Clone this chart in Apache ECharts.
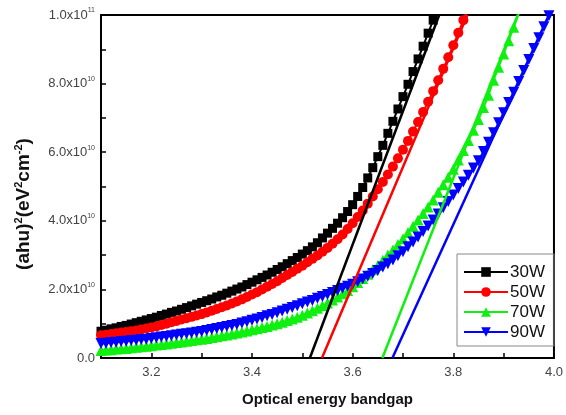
<!DOCTYPE html>
<html>
<head>
<meta charset="utf-8">
<script src="https://cdn.jsdelivr.net/npm/echarts@6/dist/echarts.min.js"></script>
<style>
  html, body { margin: 0; padding: 0; background: #fff; }
  #chart { width: 566px; height: 415px; }
</style>
</head>
<body>
<div id="chart"></div>
<script>
// photon energy (eV), shared x for all four curves
const energy = [
  3.10, 3.11, 3.12, 3.13, 3.14, 3.15, 3.16, 3.17, 3.18, 3.19,
  3.20, 3.21, 3.22, 3.23, 3.24, 3.25, 3.26, 3.27, 3.28, 3.29,
  3.30, 3.31, 3.32, 3.33, 3.34, 3.35, 3.36, 3.37, 3.38, 3.39,
  3.40, 3.41, 3.42, 3.43, 3.44, 3.45, 3.46, 3.47, 3.48, 3.49,
  3.50, 3.51, 3.52, 3.53, 3.54, 3.55, 3.56, 3.57, 3.58, 3.59,
  3.60, 3.61, 3.62, 3.63, 3.64, 3.65, 3.66, 3.67, 3.68, 3.69,
  3.70, 3.71, 3.72, 3.73, 3.74, 3.75, 3.76, 3.77, 3.78, 3.79,
  3.80, 3.81, 3.82, 3.83, 3.84, 3.85, 3.86, 3.87, 3.88, 3.89,
  3.90, 3.91, 3.92, 3.93, 3.94, 3.95, 3.96, 3.97, 3.98, 3.99,
  4.00
];

// (ahv)^2 in units of 1e10 eV^2 cm^-2
const w30 = [
  0.78, 0.81, 0.85, 0.88, 0.92, 0.95, 0.99, 1.03, 1.07, 1.11,
  1.15, 1.19, 1.24, 1.28, 1.33, 1.37, 1.42, 1.47, 1.52, 1.57,
  1.62, 1.67, 1.72, 1.78, 1.83, 1.89, 1.95, 2.01, 2.07, 2.14,
  2.21, 2.28, 2.35, 2.42, 2.50, 2.58, 2.66, 2.75, 2.84, 2.93,
  3.03, 3.13, 3.24, 3.36, 3.50, 3.64, 3.78, 3.93, 4.09, 4.27,
  4.47, 4.71, 4.97, 5.25, 5.55, 5.87, 6.20, 6.55, 6.90, 7.26,
  7.62, 7.98, 8.35, 8.72, 9.09, 9.47, 9.85, 10.23
];
const w50 = [
  0.66, 0.68, 0.70, 0.72, 0.74, 0.76, 0.78, 0.80, 0.83, 0.86,
  0.89, 0.92, 0.96, 1.00, 1.04, 1.08, 1.12, 1.16, 1.20, 1.24,
  1.28, 1.33, 1.38, 1.43, 1.48, 1.53, 1.59, 1.65, 1.71, 1.78,
  1.85, 1.92, 2.00, 2.08, 2.16, 2.24, 2.33, 2.42, 2.51, 2.60,
  2.69, 2.79, 2.89, 2.99, 3.10, 3.21, 3.33, 3.46, 3.60, 3.76,
  3.93, 4.11, 4.30, 4.50, 4.71, 4.92, 5.13, 5.35, 5.58, 5.82,
  6.07, 6.33, 6.60, 6.88, 7.17, 7.47, 7.78, 8.10, 8.43, 8.77,
  9.12, 9.48, 9.85, 10.22
];
const w70 = [
  0.22, 0.23, 0.24, 0.26, 0.27, 0.28, 0.30, 0.31, 0.33, 0.34,
  0.36, 0.38, 0.39, 0.41, 0.43, 0.45, 0.47, 0.49, 0.51, 0.53,
  0.55, 0.57, 0.60, 0.62, 0.65, 0.67, 0.70, 0.73, 0.76, 0.79,
  0.82, 0.85, 0.89, 0.92, 0.96, 1.00, 1.04, 1.09, 1.14, 1.19,
  1.25, 1.31, 1.38, 1.45, 1.52, 1.60, 1.69, 1.78, 1.87, 1.97,
  2.08, 2.20, 2.32, 2.44, 2.57, 2.70, 2.85, 3.00, 3.15, 3.31,
  3.48, 3.66, 3.84, 4.02, 4.21, 4.40, 4.61, 4.83, 5.05, 5.27,
  5.50, 5.77, 6.05, 6.34, 6.64, 6.95, 7.30, 7.66, 8.10, 8.48,
  8.86, 9.25, 9.64, 10.04
];
const w90 = [
  0.42, 0.43, 0.45, 0.46, 0.48, 0.49, 0.51, 0.52, 0.54, 0.55,
  0.57, 0.59, 0.61, 0.63, 0.65, 0.67, 0.69, 0.71, 0.73, 0.75,
  0.77, 0.80, 0.83, 0.86, 0.89, 0.92, 0.95, 0.98, 1.02, 1.06,
  1.10, 1.14, 1.18, 1.23, 1.27, 1.32, 1.37, 1.42, 1.47, 1.52,
  1.58, 1.63, 1.68, 1.74, 1.79, 1.85, 1.91, 1.97, 2.03, 2.09,
  2.15, 2.22, 2.30, 2.38, 2.46, 2.55, 2.65, 2.75, 2.86, 2.98,
  3.10, 3.24, 3.38, 3.53, 3.69, 3.85, 4.02, 4.20, 4.38, 4.56,
  4.75, 4.94, 5.13, 5.33, 5.54, 5.75, 6.02, 6.29, 6.57, 6.86,
  7.15, 7.45, 7.75, 8.06, 8.38, 8.70, 9.02, 9.34, 9.66, 9.98,
  10.30
];

const names = ["30W", "50W", "70W", "90W"];
const colors = ["#000000", "#ff0000", "#10f010", "#0000ff"];
const symbols = ["rect", "circle", "triangle", "triangle"];
const symbolSizes = [9, 10, 11, 11];
const rotations = [0, 0, 0, 180];
// linear fits: energy where the fit crosses 0 and where it reaches the top
const fitStart = [3.515, 3.539, 3.659, 3.679];
const fitEnd = [3.772, 3.828, 3.928, 3.99];
const fitTop = 10;

const FONT = "'Liberation Sans', Arial, sans-serif";

function pairs(vals) {
  return vals.map((v, i) => [energy[i], v]);
}

const curves = [w30, w50, w70, w90];
const series = [];
curves.forEach((vals, i) => {
  series.push({
    name: names[i],
    type: "line",
    data: pairs(vals),
    symbol: symbols[i],
    symbolSize: symbolSizes[i],
    symbolRotate: rotations[i],
    showAllSymbol: true,
    color: colors[i],
    lineStyle: { width: 2, color: colors[i] },
    itemStyle: { color: colors[i] },
    z: 2 + i,
  });
});
curves.forEach((vals, i) => {
  series.push({
    name: names[i] + " fit",
    type: "line",
    data: [[fitStart[i], 0], [fitEnd[i], fitTop]],
    symbol: "none",
    lineStyle: { width: 2.5, color: colors[i] },
    z: 10,
  });
});

const chart = echarts.init(document.getElementById("chart"));
chart.setOption({
  animation: false,
  textStyle: { fontFamily: FONT },
  grid: {
    left: 101,
    right: 7,
    top: 15,
    bottom: 57,
    show: true,
    borderColor: "#000",
    borderWidth: 2,
  },
  // y axis title, placed by hand (sits a bit below the plot centre)
  graphic: [{
    type: "text",
    x: 24,
    y: 204,
    rotation: Math.PI / 2,
    style: {
      text: "{t|(ahu)}{s|2}{t|(eV}{s|2}{t|cm}{s|-2}{t|)}",
      align: "center",
      verticalAlign: "middle",
      rich: {
        t: { fontFamily: FONT, fontSize: 19, fontWeight: "bold", fill: "#111", lineHeight: 22 },
        s: { fontFamily: FONT, fontSize: 11, fontWeight: "bold", fill: "#111", verticalAlign: "top", lineHeight: 11 },
      },
    },
  }],
  legend: {
    data: names,
    orient: "vertical",
    left: 457,
    top: 254,
    itemWidth: 44,
    itemHeight: 12,
    itemGap: 2,
    padding: [9, 9, 5, 6],
    borderColor: "#888",
    borderWidth: 1,
    textStyle: { fontFamily: FONT, fontSize: 17, lineHeight: 18, color: "#111", padding: [0, 0, 0, -3] },
  },
  xAxis: {
    type: "value",
    min: 3.1,
    max: 4.0,
    interval: 0.1,
    name: "Optical energy bandgap",
    nameLocation: "middle",
    nameGap: 34,
    nameTextStyle: { fontFamily: FONT, fontSize: 15, fontWeight: "bold", color: "#111" },
    axisLine: { lineStyle: { color: "#000", width: 2 } },
    axisTick: { inside: true, length: 5, lineStyle: { color: "#000", width: 1.5 } },
    splitLine: { show: false },
    axisLabel: {
      fontFamily: FONT,
      fontSize: 13,
      color: "#444",
      margin: 8,
      formatter: (v) => {
        const k = Math.round(v * 10);
        return k % 2 === 0 ? (k / 10).toFixed(1) : "";
      },
    },
  },
  yAxis: {
    type: "value",
    min: 0,
    max: 10,
    interval: 1,
    axisLine: { show: true, lineStyle: { color: "#000", width: 2 } },
    axisTick: { show: true, inside: true, length: 5, lineStyle: { color: "#000", width: 1.5 } },
    splitLine: { show: false },
    axisLabel: {
      margin: 6,
      formatter: (v) => {
        const k = Math.round(v);
        if (k === 0) return "{m|0.0}";
        if (k % 2 !== 0) return "";
        if (k === 10) return "{m|1.0x10}{s|11}";
        return "{m|" + k.toFixed(1) + "x10}{s|10}";
      },
      rich: {
        m: { fontFamily: FONT, fontSize: 13, color: "#444", lineHeight: 16 },
        s: { fontFamily: FONT, fontSize: 7, color: "#444", verticalAlign: "top", lineHeight: 8 },
      },
    },
  },
  series: series,
});
</script>
</body>
</html>
